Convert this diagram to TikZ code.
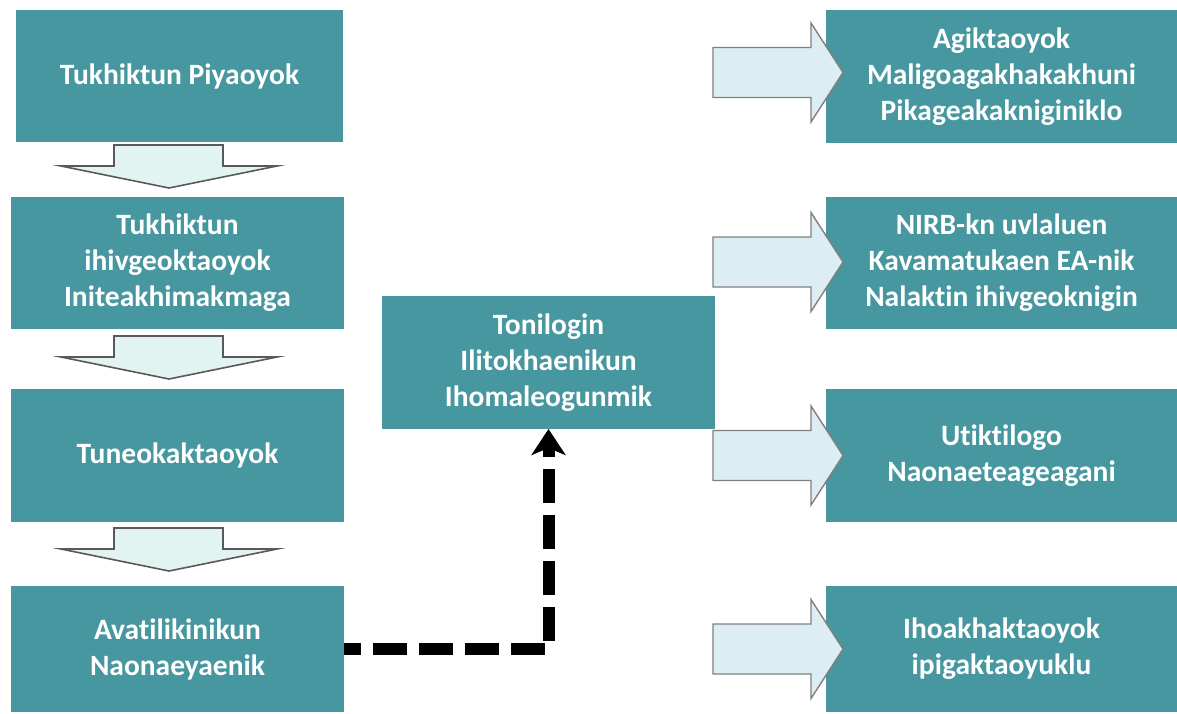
\documentclass[tikz,border=0pt]{standalone}
\usepackage{fontspec}
\setmainfont[Ligatures=NoCommon]{Carlito}
\usepackage{tikz}
\usetikzlibrary{calc,arrows.meta}
\definecolor{BoxTeal}{HTML}{46979F}
\definecolor{ArrowBlue}{HTML}{DCEDF3}
\definecolor{ArrowMint}{HTML}{E1F4F2}

\begin{document}
\begin{tikzpicture}[x=1pt,y=-1pt,
    box/.style={fill=BoxTeal, text=white, inner sep=0pt, outer sep=0pt, align=center,
      font=\bfseries\fontsize{29.5}{36}\selectfont},
    downarrow/.style={fill=ArrowMint, draw=black!65, line width=1.6pt},
    rightarrow/.style={fill=ArrowBlue, draw=black!50, line width=1.4pt}]
  \useasboundingbox (0,0) rectangle (1177,713);

  % left column
  \node[box, minimum width=327, minimum height=132] (l1) at (179.5,76) {Tukhiktun Piyaoyok};
  \node[box, minimum width=333, minimum height=132] (l2) at (177.5,263) {Tukhiktun\\ihivgeoktaoyok\\Initeakhimakmaga};
  \node[box, minimum width=333, minimum height=133] (l3) at (177.5,455.5) {Tuneokaktaoyok};
  \node[box, minimum width=333, minimum height=126] (l4) at (177.5,649) {Avatilikinikun\\Naonaeyaenik};
  \foreach \y in {145,336,528} {
    \draw[downarrow] (114,\y) -- (223,\y) -- (223,\y+21) -- (277,\y+21) -- (169,\y+43)
      -- (61,\y+21) -- (114,\y+21) -- cycle;
  }

  % middle
  \node[box, minimum width=333, minimum height=133] (ilit) at (548.5,362.5) {Tonilogin\\Ilitokhaenikun\\Ihomaleogunmik};
  \draw[line width=12pt, dash pattern=on 34pt off 12pt, dash phase=17pt,
    -{Stealth[length=26pt,width=34pt,inset=7pt]}] (l4.east) -| (ilit.south);

  % right column
  \node[box, minimum width=351, minimum height=133] (r1) at (1001.5,76.5) {Agiktaoyok\\Maligoagakhakakhuni\\Pikageakakniginiklo};
  \node[box, minimum width=351, minimum height=132] (r2) at (1001.5,263) {NIRB-kn uvlaluen\\Kavamatukaen EA-nik\\Nalaktin ihivgeoknigin};
  \node[box, minimum width=351, minimum height=133] (r3) at (1001.5,455.5) {Utiktilogo\\Naonaeteageagani};
  \node[box, minimum width=351, minimum height=126] (r4) at (1001.5,649) {Ihoakhaktaoyok\\ipigaktaoyuklu};
  \foreach \i/\dy in {1/-4,2/-1,3/0,4/0} {
    \draw[rightarrow, shift={(r\i.west)}] (-113,\dy-25) -- (-15,\dy-25) -- (-15,\dy-49.5)
      -- (17,\dy) -- (-15,\dy+49.5) -- (-15,\dy+25) -- (-113,\dy+25) -- cycle;
  }
\end{tikzpicture}
\end{document}
